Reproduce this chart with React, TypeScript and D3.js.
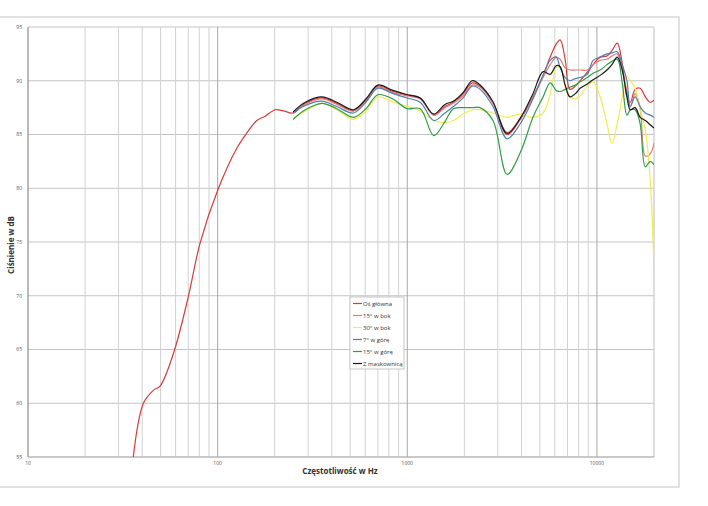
import React from 'react';
import * as d3 from 'd3';

// Low-frequency part (only main axis measured)
const LOW_FREQ = [35.9, 40.6, 45.8, 49.7, 58.4, 70, 80.8, 101, 126, 142, 161, 178, 201, 222];
const LOW_MAIN = [55, 60, 61.2, 61.6, 64.6, 69.9, 74.9, 80.0, 83.7, 85.1, 86.3, 86.7, 87.3, 87.2];

const FREQ = [250, 290, 355, 425, 520, 605, 700, 840, 1000, 1170, 1380, 1580, 1750, 1970, 2200, 2420, 2830, 3360, 3940, 4600, 5200, 5670, 6100, 6400, 6800, 7200, 7700, 8150, 8900, 9550, 10400, 11300, 12000, 12800, 13600, 14400, 15000, 15900, 16900, 18000, 19100, 20000];

const MAIN = [87.0, 87.9, 88.4, 87.9, 87.2, 88.2, 89.5, 89.0, 88.7, 88.4, 86.8, 87.6, 88.0, 88.8, 89.8, 89.5, 88.0, 85.0, 86.4, 88.5, 90.5, 92.2, 93.4, 93.8, 92.0, 89.2, 89.5, 90.0, 90.8, 91.5, 92.2, 92.3, 92.8, 93.5, 91.6, 88.5, 88.0, 89.2, 89.3, 88.5, 88.0, 88.2];
const SIDE15 = [87.0, 87.8, 88.3, 87.8, 87.2, 88.1, 89.4, 88.9, 88.6, 88.3, 86.8, 87.5, 87.9, 88.6, 89.6, 89.4, 87.9, 85.2, 86.5, 88.5, 90.3, 91.5, 92.2, 92.0, 91.2, 91.0, 91.0, 91.0, 91.0, 91.5, 91.9, 92.0, 92.3, 92.5, 91.0, 89.0, 87.6, 88.8, 87.5, 83.0, 83.2, 84.2];
const SIDE30 = [86.5, 87.2, 87.9, 87.3, 86.4, 87.2, 88.5, 88.0, 87.6, 87.2, 86.3, 86.1, 86.3, 86.9, 87.3, 87.3, 87.0, 86.6, 86.9, 86.6, 87.0, 88.8, 91.2, 91.3, 89.5, 88.6, 88.3, 88.6, 89.5, 89.9, 88.5, 86.0, 84.2, 86.0, 88.5, 90.4, 90.0, 89.3, 87.3, 85.4, 80.8, 72.5];
const UP7 = [87.0, 87.7, 88.1, 87.6, 87.0, 88.0, 89.3, 88.8, 88.4, 88.0, 86.3, 87.0, 87.6, 88.4, 89.5, 89.2, 87.6, 84.6, 86.0, 88.3, 90.5, 91.9, 92.2, 91.2, 90.3, 90.0, 90.2, 90.3, 90.6, 91.9, 92.2, 92.5, 92.6, 92.7, 91.5, 90.0, 87.6, 88.5, 87.6, 87.0, 86.8, 86.6];
const UP15 = [86.4, 87.3, 87.9, 87.4, 86.6, 87.4, 88.7, 88.3, 87.4, 87.4, 84.9, 86.2, 87.4, 87.5, 87.5, 87.5, 86.3, 81.3, 83.3, 86.6, 88.5, 89.8, 89.1, 89.0, 89.2, 89.4, 89.6, 89.9, 90.3, 90.7, 91.0, 91.5, 91.8, 92.0, 89.8, 86.8, 87.3, 87.3, 86.0, 82.0, 82.5, 82.2];
const GRILLE = [87.1, 88.0, 88.5, 88.0, 87.3, 88.3, 89.6, 89.1, 88.7, 88.4, 86.9, 87.8, 88.1, 88.9, 90.0, 89.6, 88.05, 85.1, 86.5, 88.8, 90.85, 90.6, 91.4, 91.3, 89.6, 88.5, 88.8, 89.3, 89.7, 90.1, 90.5, 91.0, 91.5, 92.2, 91.0, 88.5, 87.3, 87.5, 86.6, 86.3, 85.9, 85.6];

const SERIES_NAMES = ['Oś główna', '15° w bok', '30° w bok', '7° w górę', '15° w górę', 'Z maskownicą'];
const SERIES_COLORS = ['#d83a3a', '#e07c7c', '#f0ee48', '#4f7fb0', '#2f9e44', '#1a1a1a'];

const Y_TICKS = [55, 60, 65, 70, 75, 80, 85, 90, 95];
const X_LABELS = [10, 100, 1000, 10000];

export default function App() {
  const W = 708, H = 506;
  const left = 28, right = 654, top = 27, bottom = 457;
  const x = d3.scaleLog().domain([10, 20000]).range([left, right]);
  const y = d3.scaleLinear().domain([55, 95]).range([bottom, top]);

  const seriesData: [number, number][][] = [
    [...LOW_FREQ.map((f, i) => [f, LOW_MAIN[i]] as [number, number]), ...FREQ.map((f, i) => [f, MAIN[i]] as [number, number])],
    FREQ.map((f, i) => [f, SIDE15[i]] as [number, number]),
    FREQ.map((f, i) => [f, SIDE30[i]] as [number, number]),
    FREQ.map((f, i) => [f, UP7[i]] as [number, number]),
    FREQ.map((f, i) => [f, UP15[i]] as [number, number]),
    FREQ.map((f, i) => [f, GRILLE[i]] as [number, number]),
  ];

  const line = d3.line<[number, number]>()
    .x(d => x(d[0]))
    .y(d => y(d[1]))
    .curve(d3.curveCatmullRom.alpha(0.5));

  const vTicks: { v: number; major: boolean }[] = [];
  for (let dec = 10; dec <= 10000; dec *= 10) {
    for (let m = 1; m <= 9; m++) {
      const v = dec * m;
      if (v > 20000) break;
      vTicks.push({ v, major: m === 1 });
    }
  }
  vTicks.push({ v: 20000, major: false });

  const legendX = 350, legendY = 297, legendW = 54, legendH = 72;

  return (
    <svg width={W} height={H} style={{ position: 'absolute', left: 0, top: 0, background: '#fff' }}
      fontFamily="'Open Sans', 'Liberation Sans', sans-serif">
      <rect x={-4} y={17} width={683} height={470} fill="#fff" stroke="#cfcfcf" strokeWidth={1.2} />
      <defs>
        <clipPath id="plotclip">
          <rect x={left} y={top} width={right - left} height={bottom - top} />
        </clipPath>
      </defs>
      {/* horizontal grid */}
      {Y_TICKS.map(t => (
        <line key={'h' + t} x1={left} x2={right} y1={y(t)} y2={y(t)} stroke="#c4c4c4" strokeWidth={1} />
      ))}
      {/* vertical grid */}
      {vTicks.map(t => (
        <line key={'v' + t.v} x1={x(t.v)} x2={x(t.v)} y1={top} y2={bottom}
          stroke={t.major ? '#a8a8a8' : '#d2d2d2'} strokeWidth={1} />
      ))}
      <line x1={left} x2={left} y1={top} y2={bottom} stroke="#a0a0a0" strokeWidth={1} />
      <line x1={left} x2={right} y1={bottom} y2={bottom} stroke="#b0b0b0" strokeWidth={1} />
      {/* y tick labels */}
      {Y_TICKS.map(t => (
        <text key={'yl' + t} x={22} y={y(t) + 1.8} fontSize={5} fill="#555" textAnchor="end">{t}</text>
      ))}
      {X_LABELS.map(t => (
        <text key={'xl' + t} x={x(t)} y={465} fontSize={5} fill="#555" textAnchor="middle">{t}</text>
      ))}
      {/* series */}
      <g clipPath="url(#plotclip)">
        {seriesData.map((d, i) => (
          <path key={'s' + i} d={line(d) || ''} fill="none" stroke={SERIES_COLORS[i]} strokeWidth={1.2} />
        ))}
      </g>
      {/* axis titles */}
      <text x={340} y={474} fontSize={8} fontWeight="bold" fill="#333" textAnchor="middle">Częstotliwość w Hz</text>
      <text transform="translate(14,245) rotate(-90)" fontSize={8} fontWeight="bold" fill="#333" textAnchor="middle">Ciśnienie w dB</text>
      {/* legend */}
      <rect x={legendX} y={legendY} width={legendW} height={legendH} fill="#fff" stroke="#b8b8b8" strokeWidth={0.8} />
      {SERIES_NAMES.map((n, i) => {
        const cy = legendY + 6.5 + i * 12;
        return (
          <g key={'lg' + i}>
            <line x1={353} x2={362} y1={cy} y2={cy} stroke={SERIES_COLORS[i]} strokeWidth={1.2} />
            <text x={363} y={cy + 2} fontSize={6} fill="#333">{n}</text>
          </g>
        );
      })}
    </svg>
  );
}
